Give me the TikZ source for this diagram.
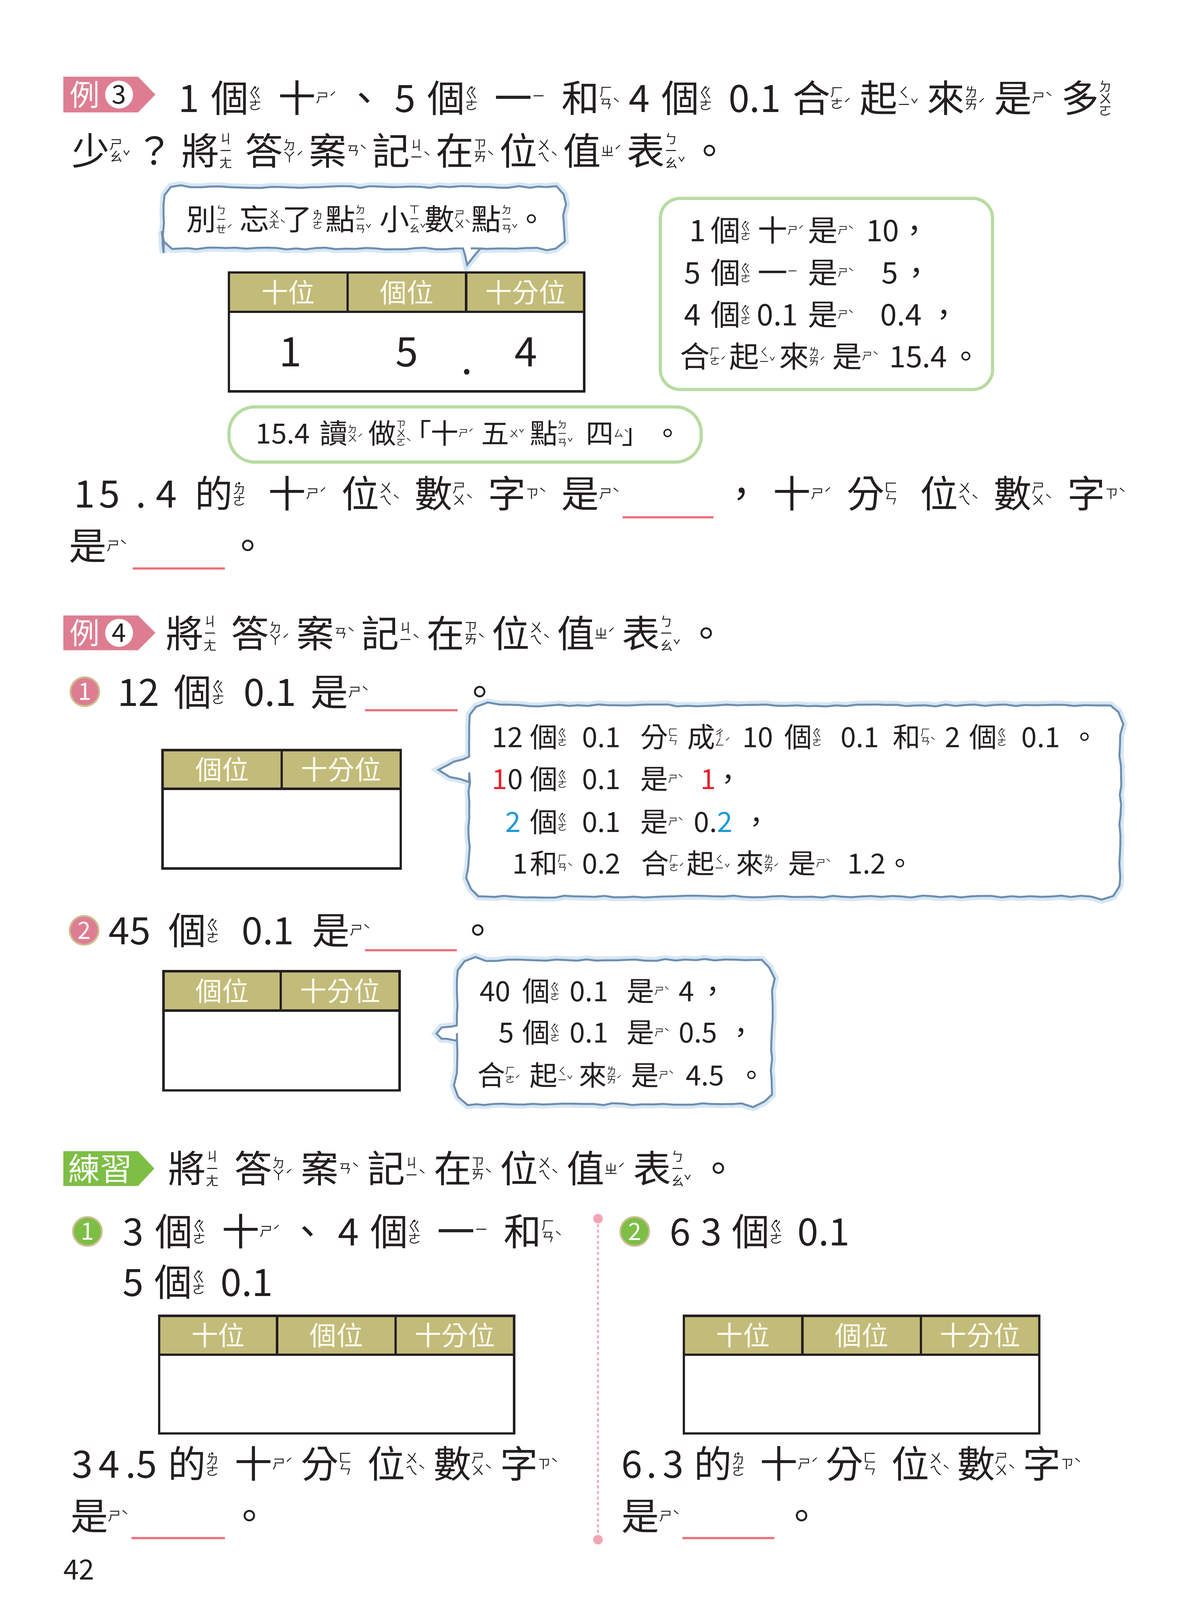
\documentclass[tikz,border=0pt]{standalone}
\usepackage{fontspec}
\setmainfont{Noto Sans CJK TC}
\usetikzlibrary{decorations.pathmorphing}

\definecolor{ink}{HTML}{231F20}
\definecolor{badgepink}{HTML}{DE7D92}
\definecolor{badgegreen}{HTML}{7DBE45}
\definecolor{ringbeige}{HTML}{CCBD8E}
\definecolor{headolive}{HTML}{C3BB79}
\definecolor{headtext}{HTML}{FFFDF2}
\definecolor{boxgreen}{HTML}{B8DBA1}
\definecolor{bubbleblue}{HTML}{6F8EB0}
\definecolor{bubblehalo}{HTML}{D6E7F4}
\definecolor{answerred}{HTML}{EC727E}
\definecolor{hintred}{HTML}{E52330}
\definecolor{hintblue}{HTML}{1A9AD8}
\definecolor{sepdot}{HTML}{F2A5B5}

\newdimen\pxu
\pxu=0.0181034cm
\newcommand\putat[2]{\rlap{\kern#1\pxu\relax#2}}
\newcommand\fillline[2]{\hbox to #1\pxu{#2}}

% zhuyin beside a character
\def\zysize{6.6}
\newcommand\zyfont{\fontsize{\zysize}{\zysize}\selectfont}
\newcommand\zystack[1]{\vbox{\zyfont\baselineskip=0.92em\relax\lineskiplimit=-1000pt\relax\tabskip=0pt\relax\let\\\cr\halign{\hfil##\hfil\cr#1\crcr}}}
\newcommand\zydot{\lower0.5em\hbox{˙}}
\newbox\zybox
\newdimen\zyraise
\newcommand\zy[3]{#1\setbox\zybox=\hbox{\zystack{#2}}%
  \zyraise=\dimexpr0.37em-0.5\ht\zybox+0.5\dp\zybox\relax
  \raise\zyraise\copy\zybox
  \rlap{\raise\zyraise\hbox{\zyfont#3}}\kern0.12em\relax}

\newcommand\zGe{\zy{個}{\zydot\\ㄍ\\ㄜ}{}}
\newcommand\zShi{\zy{十}{ㄕ}{ˊ}}
\newcommand\zShiB{\zy{是}{ㄕ}{ˋ}}
\newcommand\zYi{\zy{一}{ㄧ}{}}
\newcommand\zHan{\zy{和}{ㄏ\\ㄢ}{ˋ}}
\newcommand\zHe{\zy{合}{ㄏ\\ㄜ}{ˊ}}
\newcommand\zQi{\zy{起}{ㄑ\\ㄧ}{ˇ}}
\newcommand\zLai{\zy{來}{ㄌ\\ㄞ}{ˊ}}
\newcommand\zDuo{\zy{多}{ㄉ\\ㄨ\\ㄛ}{}}
\newcommand\zShao{\zy{少}{ㄕ\\ㄠ}{ˇ}}
\newcommand\zJiang{\zy{將}{ㄐ\\ㄧ\\ㄤ}{}}
\newcommand\zDa{\zy{答}{ㄉ\\ㄚ}{ˊ}}
\newcommand\zAn{\zy{案}{ㄢ}{ˋ}}
\newcommand\zJi{\zy{記}{ㄐ\\ㄧ}{ˋ}}
\newcommand\zZai{\zy{在}{ㄗ\\ㄞ}{ˋ}}
\newcommand\zWei{\zy{位}{ㄨ\\ㄟ}{ˋ}}
\newcommand\zZhi{\zy{值}{ㄓ}{ˊ}}
\newcommand\zBiao{\zy{表}{ㄅ\\ㄧ\\ㄠ}{ˇ}}
\newcommand\zBie{\zy{別}{ㄅ\\ㄧ\\ㄝ}{ˊ}}
\newcommand\zWang{\zy{忘}{ㄨ\\ㄤ}{ˋ}}
\newcommand\zLe{\zy{了}{\zydot\\ㄌ\\ㄜ}{}}
\newcommand\zDian{\zy{點}{ㄉ\\ㄧ\\ㄢ}{ˇ}}
\newcommand\zXiao{\zy{小}{ㄒ\\ㄧ\\ㄠ}{ˇ}}
\newcommand\zShu{\zy{數}{ㄕ\\ㄨ}{ˋ}}
\newcommand\zDu{\zy{讀}{ㄉ\\ㄨ}{ˊ}}
\newcommand\zZuo{\zy{做}{ㄗ\\ㄨ\\ㄛ}{ˋ}}
\newcommand\zWu{\zy{五}{ㄨ}{ˇ}}
\newcommand\zSi{\zy{四}{ㄙ}{ˋ}}
\newcommand\zDe{\zy{的}{\zydot\\ㄉ\\ㄜ}{}}
\newcommand\zZi{\zy{字}{ㄗ}{ˋ}}
\newcommand\zFen{\zy{分}{ㄈ\\ㄣ}{}}
\newcommand\zCheng{\zy{成}{ㄔ\\ㄥ}{ˊ}}

\tikzset{
  maintxt/.style={anchor=base west, inner sep=0pt, text=ink, font=\fontsize{19}{23}\selectfont\def\zysize{6.6}},
  boxtxt/.style={maintxt, font=\fontsize{15}{18}\selectfont\def\zysize{5.25}},
  bubtxt/.style={maintxt, font=\fontsize{14}{17}\selectfont\def\zysize{4.9}},
  pagetxt/.style={maintxt, font=\fontsize{14}{17}\selectfont},
  headtxt/.style={inner sep=0pt, text=headtext, font=\fontsize{13.5}{16}\selectfont},
  digit/.style={anchor=base, inner sep=0pt, text=ink, font=\fontsize{20.5}{24}\selectfont},
  tabline/.style={draw=ink, line width=1.2pt},
  answer/.style={draw=answerred, line width=1.1pt},
  greenbox/.style={draw=boxgreen, line width=1.6pt, rounded corners=10pt},
  bubble/.style={draw=bubbleblue, line width=1pt, fill=white,
    preaction={draw=bubblehalo, line width=4pt},
    decorate, decoration={random steps, segment length=5pt, amplitude=0.5pt}},
  badgetxt/.style={inner sep=0pt, text=white, font=\fontsize{15}{18}\selectfont},
  badgenum/.style={circle, fill=white, inner sep=0pt, minimum size=14pt, text=ink, font=\fontsize{13}{15}\selectfont},
  itemnum/.style={circle, draw=ringbeige, line width=0.9pt, inner sep=0pt, minimum size=14.5pt, text=white, font=\fontsize{12}{14}\selectfont},
  sepline/.style={draw=sepdot, line width=0.9pt, dash pattern=on 1.4pt off 1.4pt}
}

\begin{document}
\begin{tikzpicture}[x=0.0181034cm, y=-0.0181034cm]
\fill[white] (0,0) rectangle (1160,1565);
\useasboundingbox (0,0) rectangle (1160,1565);

% example 3
\fill[badgepink] (62,75) -- (135,75) -- (152,92.5) -- (135,110) -- (62,110) -- cycle;
\node[badgetxt] (ex3li) at (83,92.5) {例};
\node[badgenum] (ex3no) at (116.5,92.5) {3};
\node[maintxt] (ex3q1) at (174,109.7) {\fillline{918}{1\hfil\zGe\hfil\zShi\hfil、\hfil5\hfil\zGe\hfil\zYi\hfil\zHan\hfil4\hfil\zGe\hfil0.1\hfil\zHe\hfil\zQi\hfil\zLai\hfil\zShiB\hfil\zDuo}};
\node[maintxt] (ex3q2) at (70,161.2) {\fillline{642}{\zShao\hfil？\hfil\zJiang\hfil\zDa\hfil\zAn\hfil\zJi\hfil\zZai\hfil\zWei\hfil\zZhi\hfil\zBiao\hfil。}};

\draw[bubble] (160,213) [rounded corners=9pt] -- (160,183) -- (552,183) -- (552,243) -- (478,243) [sharp corners] -- (470,243) -- (457,259) -- (453,243) -- (445,243) [rounded corners=9pt] -- (160,243) -- (160,230) [sharp corners] -- cycle;
\node[boxtxt] (ex3tip) at (181,225.3) {\putat{0}{\zBie}\putat{52}{\zWang}\putat{94}{\zLe}\putat{136}{\zDian}\putat{189}{\zXiao}\putat{233}{\zShu}\putat{279}{\zDian}\putat{323}{。}};

\fill[headolive] (224,266.5) rectangle (571.5,305);
\draw[tabline] (224,266.5) rectangle (571.5,382.8);
\draw[tabline] (224,305) -- (571.5,305) (340,266.5) -- (340,305) (456,266.5) -- (456,305);
\node[headtxt] (t1a) at (282,286) {十位};
\node[headtxt] (t1b) at (398,286) {個位};
\node[headtxt] (t1c) at (514,286) {十分位};
\node[digit] (t1d1) at (284,358.6) {1};
\node[digit] (t1d2) at (398,358.6) {5};
\node[digit] (t1pt) at (456.7,366) {.};
\node[digit] (t1d3) at (514.5,358.6) {4};

\draw[greenbox] (646,194) rectangle (971,381);
\node[boxtxt] (ex3sum1) at (673,236.3) {\putat{0}{1}\putat{21}{\zGe}\putat{67}{\zShi}\putat{116}{\zShiB}\putat{173}{10}\putat{205.5}{，}};
\node[boxtxt] (ex3sum2) at (668,277.6) {\putat{0}{5}\putat{26}{\zGe}\putat{72}{\zYi}\putat{121}{\zShiB}\putat{193}{5}\putat{212.5}{，}};
\node[boxtxt] (ex3sum3) at (668,318.6) {\putat{0}{4}\putat{26}{\zGe}\putat{71}{0.1}\putat{121}{\zShiB}\putat{192}{0.4}\putat{239.5}{，}};
\node[boxtxt] (ex3sum4) at (664,359.4) {\putat{0}{\zHe}\putat{48}{\zQi}\putat{97}{\zLai}\putat{149}{\zShiB}\putat{204.6}{15.4}\putat{265}{。}};

\draw[greenbox, rounded corners=13pt] (224,398) rectangle (686,452);
\node[bubtxt] (ex3read) at (249,434) {\putat{0}{15.4}\putat{62.6}{\zDu}\putat{110}{\zZuo}\putat{144.4}{「}\putat{171}{\zShi}\putat{220.5}{\zWu}\putat{268}{\zDian}\putat{323}{\zSi}\putat{358}{」}\putat{389.4}{。}};

\node[maintxt] (ex3a1) at (72,496.7) {\fillline{531}{1\kern2pt5\kern8pt.\kern5pt4\hfil\zDe\hfil\zShi\hfil\zWei\hfil\zShu\hfil\zZi\hfil\zShiB}};
\draw[answer] (609,506) -- (698,506);
\node[maintxt] (ex3comma) at (706.5,496.7) {，};
\node[maintxt] (ex3a2) at (756,496.7) {\fillline{342}{\zShi\hfil\zFen\hfil\zWei\hfil\zShu\hfil\zZi}};
\node[maintxt] (ex3a3) at (67,547.7) {\zShiB};
\draw[answer] (130,556) -- (220,556);
\node[maintxt] (ex3a4) at (223.5,547.7) {。};

% example 4
\fill[badgepink] (62,602) -- (135,602) -- (152,619) -- (135,636) -- (62,636) -- cycle;
\node[badgetxt] (ex4li) at (83,619) {例};
\node[badgenum] (ex4no) at (116.5,619) {4};
\node[maintxt] (ex4q) at (162,633.2) {\fillline{547}{\zJiang\hfil\zDa\hfil\zAn\hfil\zJi\hfil\zZai\hfil\zWei\hfil\zZhi\hfil\zBiao\hfil。}};

\node[itemnum, fill=badgepink] (ex4n1) at (83,676.5) {1};
\node[maintxt] (ex4p1) at (114.6,690.7) {\fillline{243}{12\hfil\zGe\hfil0.1\hfil\zShiB}};
\draw[answer] (357,694.7) -- (447.6,694.7);
\node[maintxt] (ex4p1end) at (450.5,690.7) {。};

\fill[headolive] (159,733.7) rectangle (392,771.5);
\draw[tabline] (159,733.7) rectangle (392,849.5);
\draw[tabline] (159,771.5) -- (392,771.5) (275.6,733.7) -- (275.6,771.5);
\node[headtxt] (t2a) at (217.3,752.6) {個位};
\node[headtxt] (t2b) at (333.8,752.6) {十分位};

\draw[bubble] (459,720) [rounded corners=10pt] -- (459,690) -- (1096,690) -- (1096,877) -- (459,877) -- (459,775) [sharp corners] -- (459,765) -- (440,760) -- (429,753) -- (444,745) -- (459,740) -- cycle;
\node[bubtxt] (ex4hint1) at (480,731) {\putat{0}{12}\putat{37}{\zGe}\putat{88}{0.1}\putat{145}{\zFen}\putat{191}{\zCheng}\putat{245}{10}\putat{286}{\zGe}\putat{341}{0.1}\putat{392}{\zHan}\putat{443}{2}\putat{467}{\zGe}\putat{518}{0.1}\putat{566}{。}};
\node[bubtxt] (ex4hint2) at (480,772) {\putat{0}{\textcolor{hintred}{1}0}\putat{37}{\zGe}\putat{88}{0.1}\putat{145}{\zShiB}\putat{204}{\textcolor{hintred}{1}}\putat{217.4}{，}};
\node[bubtxt] (ex4hint3) at (480,814) {\putat{13}{\textcolor{hintblue}{2}}\putat{37}{\zGe}\putat{88}{0.1}\putat{145}{\zShiB}\putat{197.5}{0.\textcolor{hintblue}{2}}\putat{245}{，}};
\node[bubtxt] (ex4hint4) at (480,854.5) {\putat{20}{1}\putat{37}{\zHan}\putat{88}{0.2}\putat{146}{\zHe}\putat{190.6}{\zQi}\putat{238.6}{\zLai}\putat{289.6}{\zShiB}\putat{347.5}{1.2}\putat{385.4}{。}};

\node[itemnum, fill=badgepink] (ex4n2) at (82.3,910) {2};
\node[maintxt] (ex4p2) at (106,923.7) {\fillline{253}{45\hfil\zGe\hfil0.1\hfil\zShiB}};
\draw[answer] (357,929.5) -- (447,929.5);
\node[maintxt] (ex4p2end) at (448.5,923.7) {。};

\fill[headolive] (160,950) rectangle (391,988.5);
\draw[tabline] (160,950) rectangle (391,1066.6);
\draw[tabline] (160,988.5) -- (391,988.5) (274.7,950) -- (274.7,988.5);
\node[headtxt] (t3a) at (217.4,969.3) {個位};
\node[headtxt] (t3b) at (332.9,969.3) {十分位};

\draw[bubble] (447,970) [rounded corners=10pt] -- (447,939) -- (755,939) -- (755,1080) -- (447,1080) -- (447,1030) [sharp corners] -- (447,1018) -- (432,1016) -- (427,1011) -- (432,1005) -- (447,1003) -- cycle;
\node[bubtxt] (ex4hint5) at (468,979.6) {\putat{0}{40}\putat{41.6}{\zGe}\putat{88}{0.1}\putat{143.6}{\zShiB}\putat{194.6}{4}\putat{214.4}{，}};
\node[bubtxt] (ex4hint6) at (468,1020) {\putat{18.5}{5}\putat{41.6}{\zGe}\putat{88}{0.1}\putat{143.6}{\zShiB}\putat{194.6}{0.5}\putat{242}{，}};
\node[bubtxt] (ex4hint7) at (468,1061.7) {\putat{-2.3}{\zHe}\putat{48.7}{\zQi}\putat{97}{\zLai}\putat{148}{\zShiB}\putat{201.5}{4.5}\putat{252.4}{。}};

% practice
\fill[badgegreen] (62,1126) -- (135,1126) -- (151,1143) -- (135,1160) -- (62,1160) -- cycle;
\node[badgetxt, font=\fontsize{16}{18}\selectfont] (prli) at (98,1143) {練習};
\node[maintxt] (prq) at (164,1156.7) {\fillline{557}{\zJiang\hfil\zDa\hfil\zAn\hfil\zJi\hfil\zZai\hfil\zWei\hfil\zZhi\hfil\zBiao\hfil。}};

\node[itemnum, fill=badgegreen] (prn1) at (85.5,1204.5) {1};
\node[maintxt] (pr1a) at (119.7,1218.2) {\fillline{427}{3\hfil\zGe\hfil\zShi\hfil、\hfil4\hfil\zGe\hfil\zYi\hfil\zHan}};
\node[maintxt] (pr1b) at (119.7,1267.7) {\fillline{147}{5\hfil\zGe\hfil0.1}};

\fill[headolive] (155.8,1287) rectangle (503,1325);
\draw[tabline] (155.8,1287) rectangle (503,1402);
\draw[tabline] (155.8,1325) -- (503,1325) (271,1287) -- (271,1325) (387,1287) -- (387,1325);
\node[headtxt] (t4a) at (213.4,1306) {十位};
\node[headtxt] (t4b) at (329,1306) {個位};
\node[headtxt] (t4c) at (445,1306) {十分位};

\node[maintxt] (pr1c) at (70,1445.7) {\fillline{473}{3\kern3pt4\kern3pt.5\hfil\zDe\hfil\zShi\hfil\zFen\hfil\zWei\hfil\zShu\hfil\zZi}};
\node[maintxt] (pr1d) at (68.5,1496.7) {\zShiB};
\draw[answer] (128.5,1504.5) -- (220,1504.5);
\node[maintxt] (pr1e) at (225,1496.7) {。};

\draw[sepline] (585,1192) -- (585,1506);
\fill[sepdot] (585,1192) circle (2.4pt) (585,1506) circle (2.4pt);

\node[itemnum, fill=badgegreen] (prn2) at (621,1204.5) {2};
\node[maintxt] (pr2a) at (655,1218.2) {\fillline{176}{6\hfil3\hfil\zGe\hfil0.1}};

\fill[headolive] (669,1287) rectangle (1016.7,1325);
\draw[tabline] (669,1287) rectangle (1016.7,1402);
\draw[tabline] (669,1325) -- (1016.7,1325) (785,1287) -- (785,1325) (901,1287) -- (901,1325);
\node[headtxt] (t5a) at (727,1306) {十位};
\node[headtxt] (t5b) at (843,1306) {個位};
\node[headtxt] (t5c) at (958.8,1306) {十分位};

\node[maintxt] (pr2c) at (607.6,1445.7) {\fillline{447}{6\kern2pt.\kern3pt3\hfil\zDe\hfil\zShi\hfil\zFen\hfil\zWei\hfil\zShu\hfil\zZi}};
\node[maintxt] (pr2d) at (607.6,1496.7) {\zShiB};
\draw[answer] (667.6,1504.5) -- (757.6,1504.5);
\node[maintxt] (pr2e) at (765.5,1496.7) {。};

\node[pagetxt] (pageno) at (61.7,1545) {42};
\end{tikzpicture}
\end{document}
